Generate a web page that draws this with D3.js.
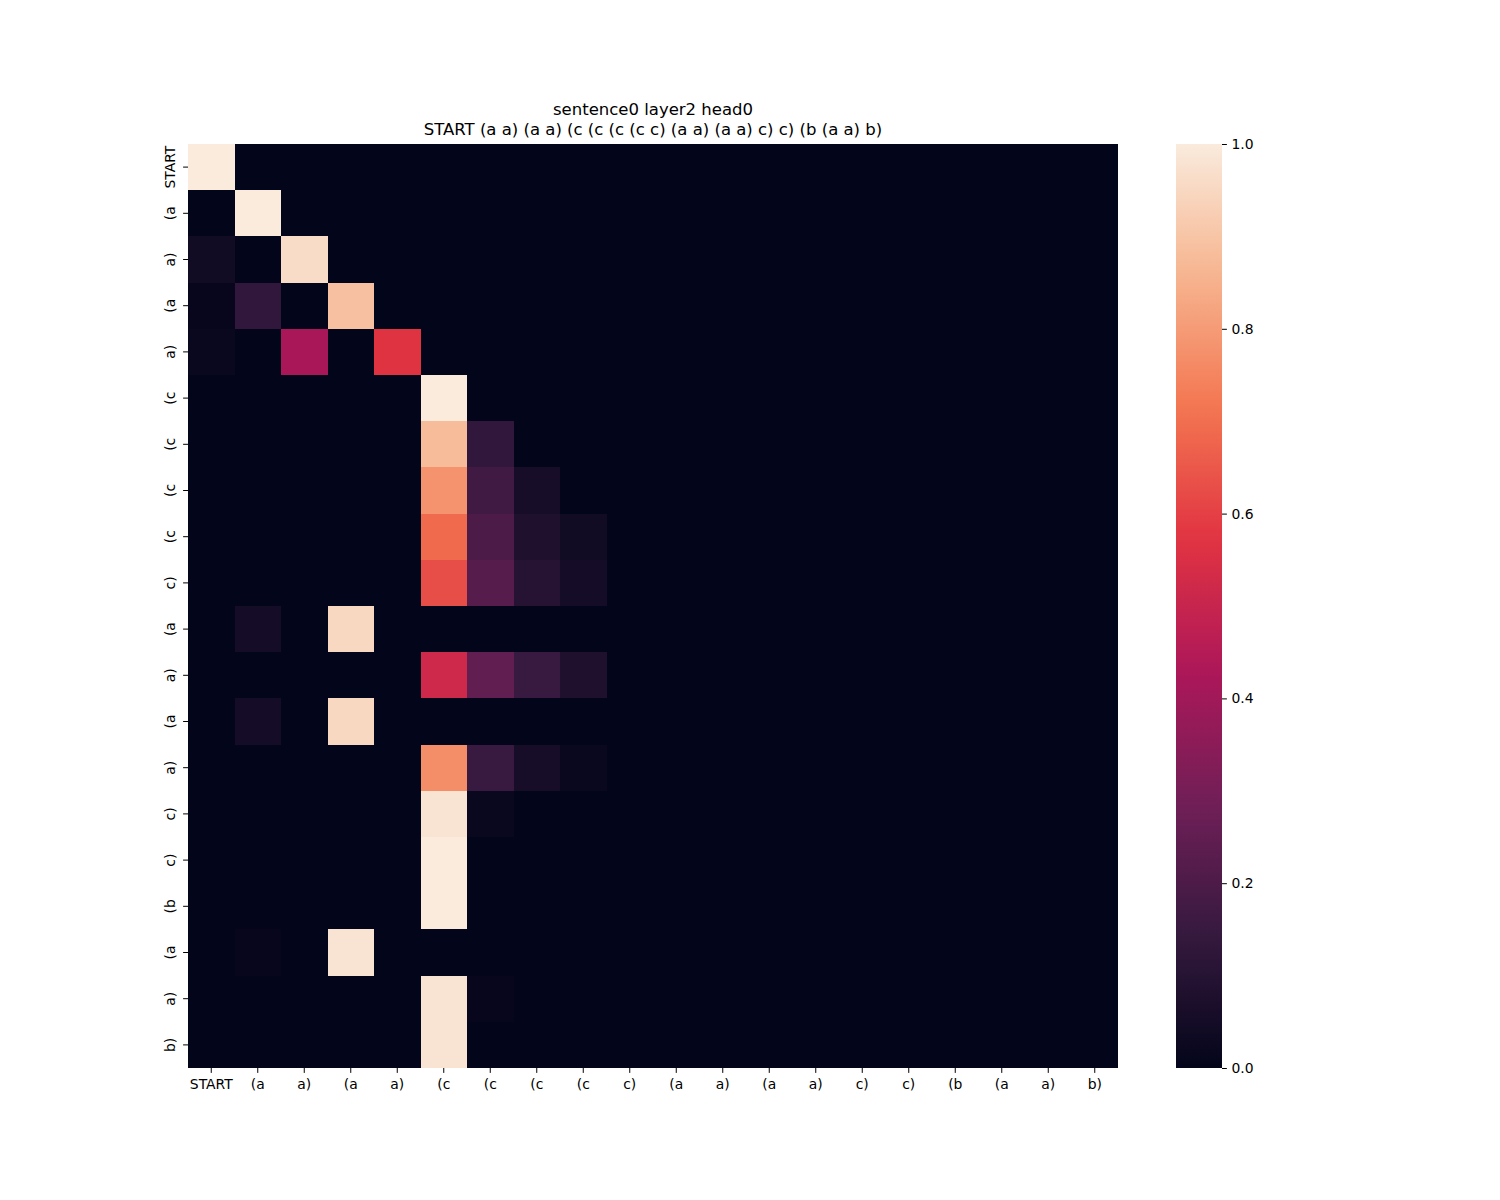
<!DOCTYPE html>
<html>
<head>
<meta charset="utf-8">
<script src="https://cdn.jsdelivr.net/npm/d3@7"></script>
<style>
  body { margin: 0; background: #fff; }
  svg text { font-family: "DejaVu Sans", sans-serif; fill: #000; }
  .domain { display: none; }
</style>
</head>
<body>
<svg id="chart" width="1500" height="1200"></svg>
<script>
// token labels (rows = queries, cols = keys)
var tokens = ["START", "(a", "a)", "(a", "a)", "(c", "(c", "(c", "(c", "c)",
              "(a", "a)", "(a", "a)", "c)", "c)", "(b", "(a", "a)", "b)"]

var titleLines = ["sentence0 layer2 head0",
                  "START (a a) (a a) (c (c (c (c c) (a a) (a a) c) c) (b (a a) b)"]

// attention weights, first 9 key columns (the rest are 0)
var attention = [
  [1.00, 0,    0,    0,    0,    0,    0,    0,    0   ],
  [0,    1.00, 0,    0,    0,    0,    0,    0,    0   ],
  [0.04, 0,    0.96, 0,    0,    0,    0,    0,    0   ],
  [0.01, 0.13, 0,    0.89, 0,    0,    0,    0,    0   ],
  [0.02, 0,    0.42, 0,    0.57, 0,    0,    0,    0   ],
  [0,    0,    0,    0,    0,    1.00, 0,    0,    0   ],
  [0,    0,    0,    0,    0,    0.88, 0.13, 0,    0   ],
  [0,    0,    0,    0,    0,    0.78, 0.17, 0.06, 0   ],
  [0,    0,    0,    0,    0,    0.69, 0.20, 0.08, 0.04],
  [0,    0,    0,    0,    0,    0.63, 0.22, 0.10, 0.05],
  [0,    0.05, 0,    0.95, 0,    0,    0,    0,    0   ],
  [0,    0,    0,    0,    0,    0.52, 0.25, 0.15, 0.08],
  [0,    0.05, 0,    0.95, 0,    0,    0,    0,    0   ],
  [0,    0,    0,    0,    0,    0.77, 0.15, 0.06, 0.02],
  [0,    0,    0,    0,    0,    0.98, 0.02, 0,    0   ],
  [0,    0,    0,    0,    0,    1.00, 0,    0,    0   ],
  [0,    0,    0,    0,    0,    1.00, 0,    0,    0   ],
  [0,    0.01, 0,    0.98, 0,    0,    0,    0,    0   ],
  [0,    0,    0,    0,    0,    0.98, 0.01, 0,    0   ],
  [0,    0,    0,    0,    0,    0.98, 0,    0,    0   ]
]

var colorbarTicks = [0, 0.2, 0.4, 0.6, 0.8, 1.0]

// seaborn "rocket" colormap
var rocketStops = [0, 1/7, 2/7, 3/7, 4/7, 5/7, 6/7, 1]
var rocketColors = ["#03051a", "#35193e", "#701f57", "#ad1759", "#e13342", "#f37651", "#f6b48f", "#faebdd"]

var svg = d3.select("#chart")
var plotLeft = 188, plotTop = 144, plotWidth = 930, plotHeight = 924, cbLeft = 1176, cbWidth = 46

var color = d3.scaleLinear().domain(rocketStops).range(rocketColors).interpolate(d3.interpolateRgb).clamp(true)

var x = d3.scaleBand().domain(d3.range(tokens.length)).range([plotLeft, plotLeft + plotWidth])
var y = d3.scaleBand().domain(d3.range(tokens.length)).range([plotTop, plotTop + plotHeight])

var cells = []
tokens.forEach(function (_, r) {
  tokens.forEach(function (_, c) {
    cells.push({ r: r, c: c, v: c < attention[r].length ? attention[r][c] : 0 })
  })
})

// cells snapped to whole pixels so no seams show between them
function px(v) { return Math.round(v) }

svg.append("g").attr("shape-rendering", "crispEdges").selectAll("rect")
  .data(cells)
  .enter().append("rect")
    .attr("x", function (d) { return px(x(d.c)) })
    .attr("y", function (d) { return px(y(d.r)) })
    .attr("width", function (d) { return px(x(d.c) + x.bandwidth()) - px(x(d.c)) })
    .attr("height", function (d) { return px(y(d.r) + y.bandwidth()) - px(y(d.r)) })
    .attr("fill", function (d) { return color(d.v) })

// x axis
var xAxis = svg.append("g")
  .attr("transform", "translate(0," + (plotTop + plotHeight) + ")")
  .call(d3.axisBottom(x).tickSize(4.9).tickPadding(6).tickFormat(function (i) { return tokens[i] }))
xAxis.selectAll("text").style("font-size", "13.9px")

// y axis, labels rotated
var yAxis = svg.append("g")
  .attr("transform", "translate(" + plotLeft + ",0)")
  .call(d3.axisLeft(y).tickSize(4.9).tickFormat(function (i) { return tokens[i] }))
yAxis.selectAll("text")
  .style("font-size", "13.9px")
  .attr("x", null).attr("dy", null)
  .attr("text-anchor", "middle")
  .attr("transform", "translate(-13,0) rotate(-90)")

// title
svg.append("g").selectAll("text")
  .data(titleLines)
  .enter().append("text")
    .attr("x", plotLeft + plotWidth / 2)
    .attr("y", function (d, i) { return 115 + i * 20 })
    .attr("text-anchor", "middle")
    .style("font-size", "16.5px")
    .text(function (d) { return d })

// colorbar
var grad = svg.append("defs").append("linearGradient")
  .attr("id", "cb").attr("x1", 0).attr("y1", 1).attr("x2", 0).attr("y2", 0)
grad.selectAll("stop")
  .data(d3.range(0, 1.0001, 0.02))
  .enter().append("stop")
    .attr("offset", function (d) { return d })
    .attr("stop-color", function (d) { return color(d) })

svg.append("rect")
  .attr("x", cbLeft).attr("y", plotTop)
  .attr("width", cbWidth).attr("height", plotHeight)
  .attr("fill", "url(#cb)")

var cbScale = d3.scaleLinear().domain([0, 1]).range([plotTop + plotHeight, plotTop])
var cbAxis = svg.append("g")
  .attr("transform", "translate(" + (cbLeft + cbWidth) + ",0)")
  .call(d3.axisRight(cbScale).tickValues(colorbarTicks).tickSize(4.9).tickPadding(4.5).tickFormat(d3.format(".1f")))
cbAxis.selectAll("text").style("font-size", "13.9px")
</script>
</body>
</html>
